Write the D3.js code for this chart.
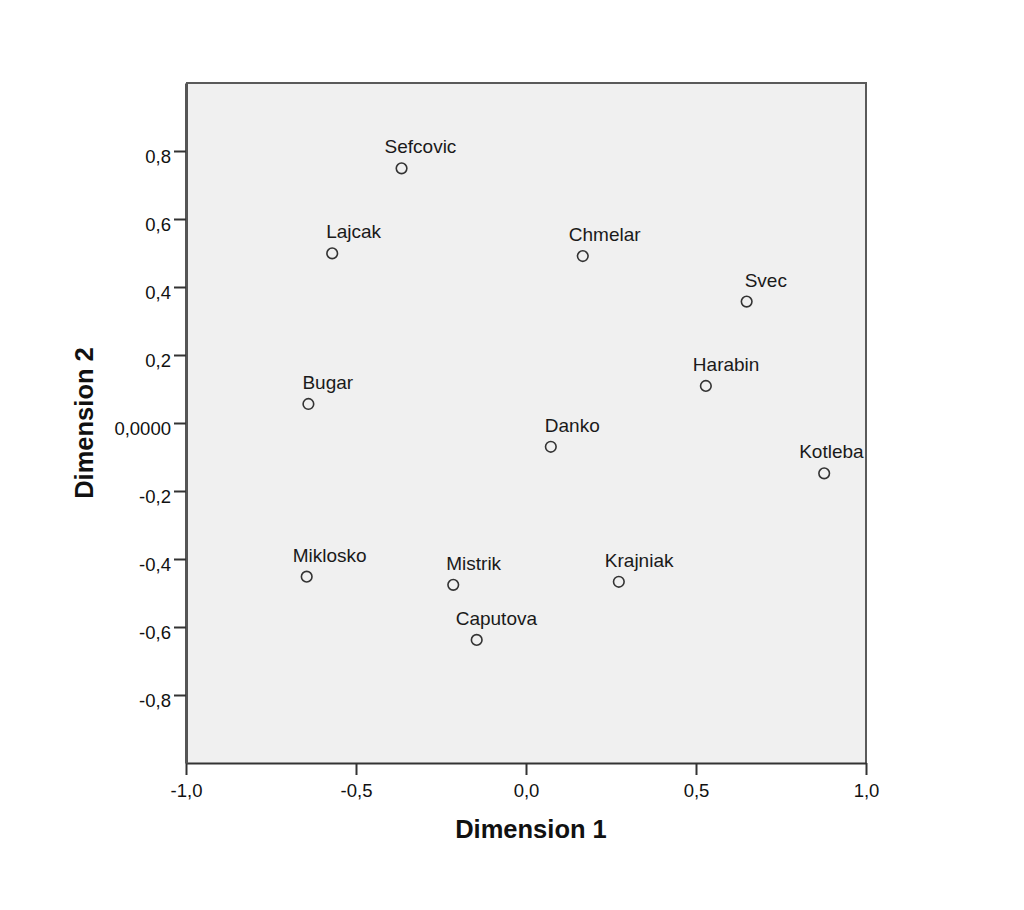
<!DOCTYPE html>
<html>
<head>
<meta charset="utf-8">
<script src="https://cdn.jsdelivr.net/npm/d3@7"></script>
<style>
  html, body { margin: 0; padding: 0; background: #ffffff; }
  svg { display: block; }
</style>
</head>
<body>
<svg id="chart" width="1024" height="910"></svg>
<script>
// ---- data ----
const names = ["Sefcovic", "Lajcak", "Chmelar", "Svec", "Harabin", "Bugar", "Danko", "Kotleba", "Miklosko", "Mistrik", "Krajniak", "Caputova"];
const dim1 = [-0.366, -0.570, 0.167, 0.649, 0.529, -0.640, 0.073, 0.877, -0.645, -0.214, 0.273, -0.145];
const dim2 = [0.749, 0.499, 0.491, 0.357, 0.109, 0.056, -0.070, -0.148, -0.452, -0.476, -0.467, -0.638];
const xTicks = [-1.0, -0.5, 0.0, 0.5, 1.0];
const xTickLabels = ["-1,0", "-0,5", "0,0", "0,5", "1,0"];
const yTicks = [0.8, 0.6, 0.4, 0.2, 0.0, -0.2, -0.4, -0.6, -0.8];
const yTickLabels = ["0,8", "0,6", "0,4", "0,2", "0,0000", "-0,2", "-0,4", "-0,6", "-0,8"];
// label horizontal shift relative to the marker (layout only)
const labelShift = [-17, -6, -14, -2, -13, -6, -6, -25, -14, -7, -14, -21];

// ---- layout ----
const L = 186, R = 866, T = 83, B = 763;
const svg = d3.select("#chart");
const x = d3.scaleLinear().domain([-1, 1]).range([L, R]);
const y = d3.scaleLinear().domain([-1, 1]).range([B, T]);

svg.append("rect")
  .attr("x", L).attr("y", T).attr("width", R - L).attr("height", B - T)
  .attr("fill", "#f0f0f0");

// frame top/right
svg.append("path")
  .attr("d", `M${L},${T}H${R}V${B}`)
  .attr("fill", "none").attr("stroke", "#5a5a5a").attr("stroke-width", 2);

const fontTick = "'Liberation Sans', Arial, sans-serif";

// x axis
const xAxis = d3.axisBottom(x)
  .tickValues(xTicks)
  .tickFormat((d, i) => xTickLabels[i])
  .tickSizeInner(12).tickSizeOuter(0).tickPadding(9);
const gx = svg.append("g").attr("transform", `translate(0,${B})`).call(xAxis);
gx.select(".domain").attr("stroke", "#333").attr("stroke-width", 2);
gx.selectAll(".tick line").attr("stroke", "#333").attr("stroke-width", 2);
gx.selectAll(".tick text").attr("font-family", fontTick).attr("font-size", "18.5px").attr("fill", "#111");

// y axis
const yAxis = d3.axisLeft(y)
  .tickValues(yTicks)
  .tickFormat((d, i) => yTickLabels[i])
  .tickSizeInner(12).tickSizeOuter(0).tickPadding(3);
const gy = svg.append("g").attr("transform", `translate(${L},0)`).call(yAxis);
gy.select(".domain").attr("stroke", "#555").attr("stroke-width", 3);
gy.selectAll(".tick line").attr("stroke", "#333").attr("stroke-width", 2);
gy.selectAll(".tick text").attr("font-family", fontTick).attr("font-size", "18.5px").attr("fill", "#111")
  .attr("dy", "0.6em");

// axis titles
svg.append("text")
  .attr("x", 531).attr("y", 838)
  .attr("text-anchor", "middle")
  .attr("font-family", fontTick).attr("font-weight", "bold").attr("font-size", "25.5px")
  .attr("fill", "#111")
  .text("Dimension 1");
svg.append("text")
  .attr("transform", `translate(93,423) rotate(-90)`)
  .attr("text-anchor", "middle")
  .attr("font-family", fontTick).attr("font-weight", "bold").attr("font-size", "25.5px")
  .attr("fill", "#111")
  .text("Dimension 2");

// points
const pts = names.map((n, i) => ({ name: n, d1: dim1[i], d2: dim2[i], shift: labelShift[i] }));
const g = svg.append("g");
g.selectAll("circle").data(pts).join("circle")
  .attr("cx", d => x(d.d1)).attr("cy", d => y(d.d2))
  .attr("r", 5.3)
  .attr("fill", "none").attr("stroke", "#333").attr("stroke-width", 1.6);
g.selectAll("text").data(pts).join("text")
  .attr("x", d => x(d.d1) + d.shift).attr("y", d => y(d.d2) - 15)
  .attr("font-family", fontTick).attr("font-size", "19px").attr("fill", "#1a1a1a")
  .text(d => d.name);
</script>
</body>
</html>
